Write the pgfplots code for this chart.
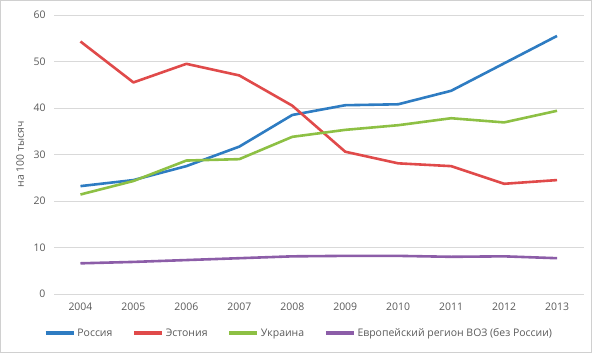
\documentclass[border=0pt]{standalone}
\usepackage{pgfplots}
\pgfplotsset{compat=1.18}
\usepackage{fontspec}
\setmainfont{Open Sans}
\definecolor{cRu}{HTML}{2E7CC2}
\definecolor{cEe}{HTML}{E04A4A}
\definecolor{cUa}{HTML}{8DC044}
\definecolor{cEu}{HTML}{8C5DA8}
\definecolor{cGrid}{HTML}{D9D9D9}
\definecolor{cText}{HTML}{595959}
\definecolor{cBorder}{HTML}{D0D0D0}
\begin{document}
\begin{tikzpicture}[x=1bp,y=1bp]
\draw[cBorder, line width=1bp] (0.5,0.5) rectangle (591.5,352.5);
\begin{axis}[
  at={(54bp,59bp)}, anchor=south west,
  scale only axis, width=529.5bp, height=279bp,
  xmin=2003.5, xmax=2013.5, ymin=0, ymax=60,
  xtick={2004,2005,...,2013}, ytick={0,10,...,60},
  xticklabel style={/pgf/number format/1000 sep=, yshift=-5bp},
  yticklabel style={xshift=-5bp},
  /pgf/number format/assume math mode=true,
  tick label style={font=\fontsize{10.5}{12}\selectfont, text=cText},
  major tick length=0pt,
  axis line style={draw=none},
  ymajorgrids, grid style={cGrid, line width=0.8bp},
  ylabel={на 100 тысяч},
  ylabel style={at={(axis description cs:-0.0642,0.5)}, anchor=center, font=\fontsize{10.5}{12}\selectfont, text=cText},
  legend columns=4,
  legend style={at={(axis description cs:0.4627,-0.14)}, anchor=center, draw=none, fill=none,
    font=\fontsize{10.5}{12}\selectfont, text=cText,
    /tikz/every even column/.append style={column sep=18bp}},
  legend image code/.code={\draw[#1, line width=3.4bp] (0bp,0bp) -- (28bp,0bp);},
  every axis plot/.append style={line width=2.6bp, mark=none, line join=round},
]
\addplot[cRu] coordinates {(2004,23.2) (2005,24.5) (2006,27.5) (2007,31.7) (2008,38.5) (2009,40.6) (2010,40.8) (2011,43.7) (2012,49.6) (2013,55.5)};
\addlegendentry{Россия}
\addplot[cEe] coordinates {(2004,54.3) (2005,45.5) (2006,49.5) (2007,47.0) (2008,40.5) (2009,30.6) (2010,28.1) (2011,27.5) (2012,23.7) (2013,24.5)};
\addlegendentry{Эстония}
\addplot[cUa] coordinates {(2004,21.4) (2005,24.3) (2006,28.7) (2007,29.0) (2008,33.8) (2009,35.3) (2010,36.3) (2011,37.8) (2012,36.9) (2013,39.4)};
\addlegendentry{Украина}
\addplot[cEu] coordinates {(2004,6.6) (2005,6.9) (2006,7.3) (2007,7.7) (2008,8.1) (2009,8.2) (2010,8.2) (2011,8.0) (2012,8.1) (2013,7.7)};
\addlegendentry{Европейский регион ВОЗ (без России)}
\end{axis}
\end{tikzpicture}
\end{document}
